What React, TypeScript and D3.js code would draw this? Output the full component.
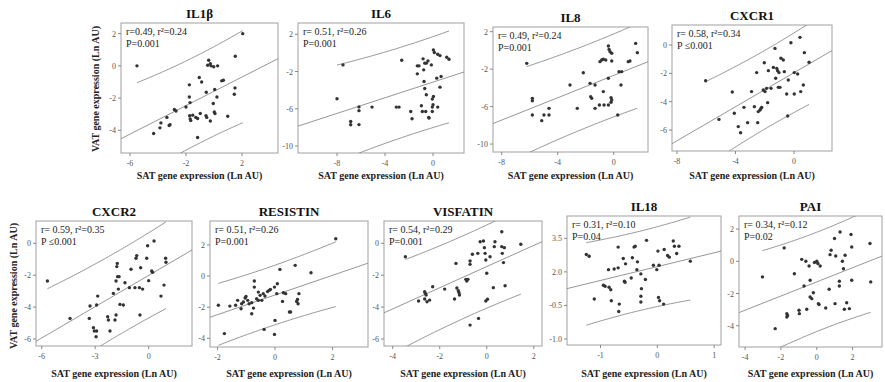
import React from 'react';
import * as d3 from 'd3';

type Pt = [number, number];

const il1bPoints: Pt[] = [[-5.5,0],[-4.31,-4.2],[-3.86,-3.85],[-3.79,-3.54],[-3.36,-3.2],[-3.2,-3.7],[-3.14,-3.65],[-2.83,-2.71],[-2.71,-2.8],[-2.0,-2.55],[-1.76,-1.18],[-1.76,-1.93],[-1.71,-2.28],[-1.74,-3.1],[-1.7,-3.3],[-1.66,-3.4],[-1.52,-3.06],[-1.3,-3.2],[-1.17,-3.27],[-1.05,-0.72],[-0.88,-1.0],[-1.17,-4.45],[-0.98,-2.96],[-0.57,-3.1],[-0.52,-3.2],[-0.55,-1.64],[-0.38,0.35],[-0.26,0.14],[-0.45,0.04],[-0.21,0],[-0.02,-0.06],[0.26,0],[0.05,-1.47],[-0.05,-2.34],[0.02,-2.86],[0.07,-2.96],[-0.26,-3.42],[0.21,-1.93],[0.55,-0.93],[0.67,-0.89],[0.98,-3.13],[1.45,-1.76],[1.5,-1.37],[1.52,0.6],[2.05,2.0]];

const il6Points: Pt[] = [[-8,-4.93],[-7.5,-1.29],[-6.86,-7.36],[-6.86,-7.71],[-6.17,-5.8],[-6.17,-6.2],[-6.17,-7.7],[-5.08,-5.82],[-3.06,-5.82],[-2.83,-5.82],[-2.61,-0.79],[-1.86,-6.29],[-1.75,-7.07],[-1.31,-1.39],[-1.17,-1.39],[-1.31,-2.25],[-0.97,-5.68],[-0.89,-6.29],[-0.61,-6.29],[-0.83,-0.64],[-0.78,-1.82],[-0.69,-1.1],[-0.56,-1.1],[-0.42,-0.86],[-0.75,-3.07],[-0.69,-3.82],[-0.56,-4.5],[-0.36,-6.93],[-0.14,-1.29],[0.03,0.32],[0.11,0.04],[0.39,-0.14],[0.58,-0.29],[1.14,-0.46],[1.33,-0.68],[0.31,-2.71],[0.67,-2.54],[0.58,-3.68],[0.03,-4.68],[-0.06,-4.96],[-0.06,-5.82],[0.39,-5.82],[-0.06,-6.29],[-0.33,-7.0],[0.0,-5.57]];

const il8Points: Pt[] = [[-6.21,-1.38],[-5.81,-5.12],[-5.81,-5.37],[-5.81,-6.9],[-5.14,-7.5],[-4.98,-6.9],[-4.62,-6.9],[-4.62,-6.19],[-3.12,-3.69],[-2.6,-6.19],[-2.17,-2.38],[-1.69,-3.52],[-1.64,-4.94],[-1.57,-5.12],[-1.33,-3.69],[-1.33,-6.19],[-1.02,-5.83],[-0.69,-5.83],[-0.98,-1.2],[-0.86,-1.02],[-0.74,-0.95],[-0.74,-4.4],[-0.38,0.47],[-0.33,0.11],[-0.26,-0.14],[-0.14,-0.31],[-0.57,-1.02],[-0.14,-1.13],[-0.38,-2.98],[-0.19,-5.05],[-0.14,-5.3],[-0.19,-5.54],[-0.38,-5.83],[0.29,-6.9],[0.38,-2.27],[0.57,-2.27],[0.52,-3.69],[1.04,-1.2],[1.16,-1.13],[1.57,0.75],[1.69,-0.24]];

const cxcr1Points: Pt[] = [[-6.04,-2.52],[-5.13,-5.25],[-4.22,-3.32],[-4.08,-4.82],[-3.81,-5.76],[-3.65,-6.19],[-3.42,-4.4],[-3.17,-5.48],[-2.9,-3.29],[-2.71,-4.35],[-2.55,-1.95],[-2.48,-5.48],[-2.44,-4.7],[-2.32,-4.59],[-2.26,-4.49],[-2.21,-4.4],[-2.1,-3.18],[-1.98,-3.29],[-2.03,-1.25],[-1.87,-3.06],[-1.75,-1.81],[-1.8,-4.07],[-1.57,-3.06],[-1.41,-1.58],[-1.3,-0.24],[-1.18,-1.65],[-1.12,-1.81],[-1.25,-2.35],[-1.03,-1.95],[-0.89,-0.94],[-0.73,-1.06],[-0.66,-1.88],[-0.39,-2.47],[-0.21,0.16],[0.41,0.54],[0.71,-0.54],[1.03,-1.22],[0.02,-1.95],[0.25,-2.05],[0.64,-2.82],[0.46,-3.29],[0.02,-3.46],[-0.5,-3.46],[-0.43,-5.01],[-1.07,-2.99],[-0.96,-2.99]];

const cxcr2Points: Pt[] = [[-5.68,-2.36],[-4.41,-4.71],[-3.33,-4.71],[-3.29,-3.93],[-3.1,-5.29],[-3.05,-5.5],[-2.95,-5.86],[-2.92,-5.5],[-2.92,-3.87],[-2.86,-3.31],[-2.3,-4.6],[-2.26,-4.81],[-2.17,-5.5],[-1.98,-3.14],[-1.89,-4.81],[-1.83,-4.5],[-1.83,-2.36],[-1.79,-1.46],[-1.76,-1.26],[-1.74,-2.09],[-1.66,-2.09],[-1.7,-2.87],[-1.61,-3.83],[-1.42,-3.87],[-1.33,-2.47],[-1.08,-2.78],[-0.99,-1.63],[-0.77,-2.78],[-0.71,-0.94],[-0.67,-0.77],[-0.52,-2.78],[-0.49,-4.5],[-0.45,-1.53],[-0.34,-2.87],[-0.11,-0.94],[-0.06,-0.15],[0,-2.34],[0.17,-1.74],[0.22,-1.82],[0.3,0.15],[0.69,-3.31],[0.86,-2.62],[0.95,-0.94],[0.97,-1.19]];

const resistinPoints: Pt[] = [[-1.97,-1.88],[-1.76,-3.7],[-1.57,-1.93],[-1.37,-1.88],[-1.3,-1.56],[-1.18,-2.1],[-1.16,-1.78],[-1.1,-1.67],[-1.04,-1.41],[-1.01,-1.31],[-0.95,-1.56],[-0.9,-1.78],[-0.81,-2.42],[-0.81,-1.71],[-0.75,-2.06],[-0.72,-0.32],[-0.72,-0.71],[-0.64,-1.46],[-0.58,-1.56],[-0.58,-1.03],[-0.52,-1.24],[-0.46,-1.56],[-0.41,-1.13],[-0.35,-1.28],[-0.38,-3.43],[-0.26,-1.0],[-0.21,-0.92],[-0.16,-0.86],[-0.02,-0.71],[0,-2.85],[-0.02,-3.75],[0.06,-1.13],[0.08,-0.49],[0.17,0.43],[0.26,-1.63],[0.29,-1.07],[0.37,-1.13],[0.5,-2.31],[0.54,-2.31],[0.7,0.69],[0.75,-1.63],[0.78,-1.5],[0.8,-1.78],[0.83,-1.13],[1.25,0.21],[2.11,2.4]];

const visfatinPoints: Pt[] = [[-3.46,-0.84],[-2.9,-3.62],[-2.64,-3.03],[-2.61,-3.14],[-2.58,-3.24],[-2.64,-3.49],[-2.54,-3.66],[-2.43,-3.56],[-2.3,-2.72],[-1.79,-2.87],[-1.37,-3.49],[-1.31,-1.26],[-1.27,-2.8],[-1.21,-2.97],[-1.18,-3.1],[-1.16,-3.24],[-0.89,-2.26],[-0.85,-2.36],[-0.8,-2.26],[-0.71,-1.11],[-0.71,-1.32],[-0.71,-5.13],[-0.61,-0.69],[-0.38,-0.63],[-0.35,-4.71],[-0.28,0.1],[-0.14,0.15],[-0.1,-0.27],[-0.07,-0.63],[-0.04,-1.05],[0,-1.88],[-0.04,-3.62],[0.03,-3.51],[0.14,-0.84],[0.32,-0.21],[0.35,0.1],[0.28,-2.78],[0.64,0.73],[0.64,-0.21],[0.66,-0.63],[0.75,-0.27],[0.71,-1.21],[0.78,-2.66],[1.45,-0.06]];

const il18Points: Pt[] = [[-1.25,2.78],[-1.2,2.7],[-1.11,0.79],[-0.95,1.4],[-0.92,1.36],[-0.86,2.1],[-0.85,1.31],[-0.82,1.2],[-0.81,0.71],[-0.76,2.13],[-0.69,2.18],[-0.69,3.11],[-0.67,0.56],[-0.68,0.23],[-0.6,2.6],[-0.56,2.36],[-0.58,1.58],[-0.57,1.54],[-0.46,1.73],[-0.44,2.63],[-0.41,3.11],[-0.39,3.15],[-0.36,2.1],[-0.35,2.45],[-0.29,1.91],[-0.28,1.25],[-0.29,0.91],[-0.29,0.65],[-0.21,1.66],[-0.19,3.41],[-0.07,2.3],[-0.01,2.1],[0.01,2.93],[0.03,2.3],[0.02,0.86],[0.04,0.71],[0.11,0.56],[0.12,3.0],[0.18,2.73],[0.21,2.66],[0.28,3.38],[0.3,3.15],[0.34,2.82],[0.38,3.15],[0.58,2.48]];

const paiPoints: Pt[] = [[-3.03,-0.97],[-2.32,-4.18],[-1.82,0.83],[-1.67,-3.25],[-1.67,-3.46],[-1.63,-3.36],[-1.25,-0.77],[-0.99,-3.04],[-0.97,-3.25],[-0.84,0.12],[-0.71,-1.53],[-0.61,0],[-0.56,-2.98],[-0.43,-0.29],[-0.37,-1.18],[-0.37,-2.22],[-0.28,-2.32],[-0.19,-1.95],[-0.13,-0.08],[0,0],[0.06,-0.14],[0.09,-2.63],[0.13,-2.69],[0.19,-0.29],[0.5,-2.9],[0.69,-1.74],[0.74,0.41],[0.8,0.68],[0.99,1.41],[1.02,-2.63],[1.06,0.33],[1.26,-1.24],[1.26,-1.53],[1.3,1.82],[1.43,0],[1.49,-0.46],[1.58,0.37],[1.54,-2.98],[1.67,-2.57],[1.82,-2.94],[1.91,1.66],[1.95,0.89],[1.95,-1.18],[2.97,1.1],[3.01,-1.28]];

const panelPoints: Pt[][] = [il1bPoints, il6Points, il8Points, cxcr1Points, cxcr2Points, resistinPoints, visfatinPoints, il18Points, paiPoints];
const panelTitles = ['IL1β', 'IL6', 'IL8', 'CXCR1', 'CXCR2', 'RESISTIN', 'VISFATIN', 'IL18', 'PAI'];
const rTexts = ['r=0.49, r²=0.24', 'r= 0.51, r²=0.26', 'r= 0.49, r²=0.24', 'r= 0.58, r²=0.34', 'r= 0.59, r²=0.35', 'r= 0.51, r²=0.26', 'r= 0.54, r²=0.29', 'r= 0.31, r²=0.10', 'r= 0.34, r²=0.12'];
const pTexts = ['P=0.001', 'P=0.001', 'P=0.001', 'P ≤0.001', 'P ≤0.001', 'P=0.001', 'P=0.001', 'P=0.04', 'P=0.02'];
const xTickValues = [[-6, -2, 2], [-8, -4, 0], [-8, -4, 0], [-8, -4, 0], [-6, -3, 0], [-2, 0, 2], [-4, -2, 0, 2], [-1, 0, 1], [-4, -2, 0, 2]];
const yTickValues = [[2, 0, -2, -4], [2, -2, -6, -10], [2, -2, -6, -10], [0, -2, -4, -6], [0, -2, -4, -6], [2, 0, -2, -4], [0, -2, -4, -6], [3.5, 2, 0.5, -1], [2, 0, -2, -4]];
const il18YTickLabels = ['3.5', '2.0', '-0.5', '-1.0'];
const xAxisTitle = 'SAT gene expression (Ln AU)';
const yAxisTitle = 'VAT gene expression (Ln AU)';

// layout: plot box in pixels and scale domains
const layouts = [
  { box: [121, 278, 23, 153], xd: [-6.64, 4.57], yd: [-5.41, 2.66] },
  { box: [298, 464, 23, 153], xd: [-11.25, 2.58], yd: [-10.75, 3.21] },
  { box: [493, 648, 27, 152], xd: [-8.62, 2.45], yd: [-10.85, 2.5] },
  { box: [672, 832, 25, 151], xd: [-8.34, 2.6], yd: [-7.48, 1.41] },
  { box: [36, 192, 221, 346], xd: [-6.32, 2.43], yd: [-6.44, 1.4] },
  { box: [210, 368, 221, 347], xd: [-2.26, 3.23], yd: [-4.56, 3.54] },
  { box: [384, 542, 221, 346], xd: [-4.37, 2.35], yd: [-6.44, 1.4] },
  { box: [567, 721, 216, 345], xd: [-1.59, 1.12], yd: [-1.27, 4.5] },
  { box: [739, 882, 216, 347], xd: [-4.34, 3.64], yd: [-5.32, 2.81] },
];

const SERIF = '"Liberation Serif", "Times New Roman", serif';

function regress(pts: Pt[]) {
  const n = pts.length;
  const mx = d3.mean(pts, (d) => d[0]) as number;
  const my = d3.mean(pts, (d) => d[1]) as number;
  let sxx = 0, sxy = 0;
  pts.forEach(([x, y]) => { sxx += (x - mx) ** 2; sxy += (x - mx) * (y - my); });
  const b = sxy / sxx;
  const a = my - b * mx;
  let sse = 0;
  pts.forEach(([x, y]) => { sse += (y - a - b * x) ** 2; });
  const s = Math.sqrt(sse / (n - 2));
  return { a, b, s, n, mx, sxx };
}

function Panel({ i }: { i: number }) {
  const pts = panelPoints[i];
  const { box, xd, yd } = layouts[i];
  const [x0, x1, y0, y1] = box;
  const xs = d3.scaleLinear().domain(xd).range([x0, x1]);
  const ys = d3.scaleLinear().domain(yd).range([y1, y0]);
  const reg = regress(pts);
  const t = 2.02;
  const fit = (x: number) => reg.a + reg.b * x;
  const half = (x: number) => t * reg.s * Math.sqrt(1 + 1 / reg.n + (x - reg.mx) ** 2 / reg.sxx);
  const [minX, maxX] = d3.extent(pts, (d) => d[0]) as [number, number];
  const samp = d3.range(0, 61).map((k) => minX + (maxX - minX) * k / 60);
  const line = d3.line<[number, number]>().x((d) => xs(d[0])).y((d) => ys(d[1]));
  const upper = line(samp.map((x) => [x, fit(x) + half(x)])) || '';
  const lower = line(samp.map((x) => [x, fit(x) - half(x)])) || '';
  const mid = line([[xd[0], fit(xd[0])], [xd[1], fit(xd[1])]]) || '';
  const clipId = `clip${i}`;
  const yLabels = i === 7 ? il18YTickLabels : yTickValues[i].map((v) => String(v));
  const cx = (x0 + x1) / 2;
  return (
    <g>
      <defs>
        <clipPath id={clipId}><rect x={x0} y={y0} width={x1 - x0} height={y1 - y0} /></clipPath>
      </defs>
      <rect x={x0} y={y0} width={x1 - x0} height={y1 - y0} fill="#fff" stroke="#a0a0a0" strokeWidth={1} />
      {xTickValues[i].map((v) => (
        <g key={'x' + v}>
          <line x1={xs(v)} x2={xs(v)} y1={y1} y2={y1 + 3} stroke="#888" />
          <text x={xs(v)} y={y1 + 13} fontSize={8} fill="#555" textAnchor="middle" fontFamily={SERIF}>{v}</text>
        </g>
      ))}
      {yTickValues[i].map((v, k) => (
        <g key={'y' + v}>
          <line x1={x0 - 3} x2={x0} y1={ys(v)} y2={ys(v)} stroke="#888" />
          <text x={x0 - 5} y={ys(v) + 3} fontSize={8} fill="#555" textAnchor="end" fontFamily={SERIF}>{yLabels[k]}</text>
        </g>
      ))}
      <g clipPath={`url(#${clipId})`} fill="none" stroke="#8a8a8a" strokeWidth={0.9}>
        <path d={mid} />
        <path d={upper} />
        <path d={lower} />
      </g>
      {pts.map((d, k) => (
        <circle key={k} cx={xs(d[0])} cy={ys(d[1])} r={1.7} fill="#333" />
      ))}
      <text x={x0 + 5} y={y0 + 12} fontSize={10} fill="#222" fontFamily={SERIF}>{rTexts[i]}</text>
      <text x={x0 + 5} y={y0 + 24} fontSize={10} fill="#222" fontFamily={SERIF}>{pTexts[i]}</text>
      <text x={cx} y={y0 - 5} fontSize={13} fontWeight="bold" fill="#111" textAnchor="middle" fontFamily={SERIF}>{panelTitles[i]}</text>
      <text x={cx} y={i < 4 ? 179 : 377} fontSize={10} fontWeight="bold" fill="#222" textAnchor="middle" fontFamily={SERIF}>{xAxisTitle}</text>
    </g>
  );
}

export default function App() {
  return (
    <svg width={885} height={382} style={{ position: 'absolute', left: 0, top: 0, background: '#fff' }}>
      <rect x={0} y={0} width={885} height={382} fill="#fff" />
      {panelTitles.map((_, i) => <Panel key={i} i={i} />)}
      <text transform="translate(99,89) rotate(-90)" fontSize={10} fontWeight="bold" fill="#222" textAnchor="middle" fontFamily={SERIF}>{yAxisTitle}</text>
      <text transform="translate(17,286) rotate(-90)" fontSize={10} fontWeight="bold" fill="#222" textAnchor="middle" fontFamily={SERIF}>{yAxisTitle}</text>
    </svg>
  );
}
